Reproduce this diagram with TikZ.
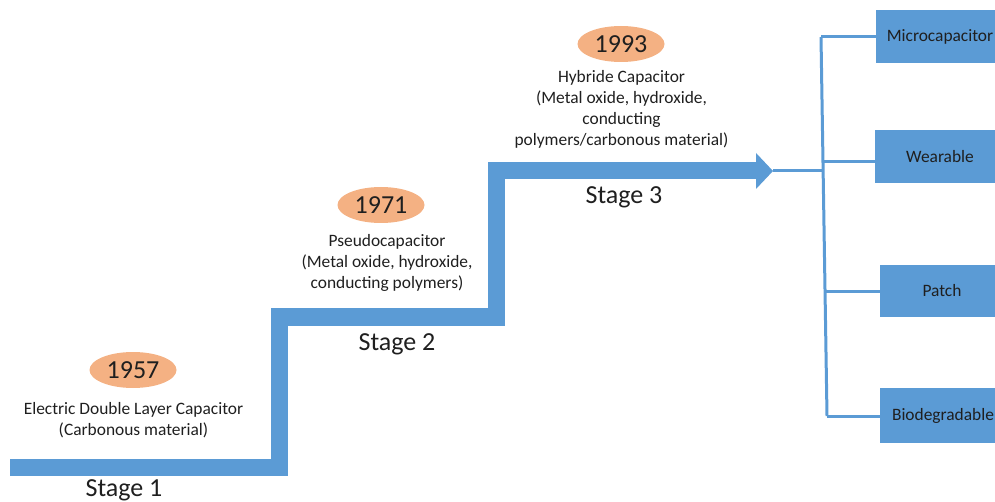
\documentclass[tikz,border=0pt]{standalone}
\usepackage{fontspec}
\setmainfont{Carlito}
\usetikzlibrary{shapes.geometric}
\definecolor{stairblue}{HTML}{5B9BD5}
\definecolor{yearorange}{HTML}{F4B183}
\definecolor{txtgray}{HTML}{1F1F1F}
\tikzset{
  stair/.style={draw=stairblue, line width=17pt, line join=miter, line cap=butt},
  thinlink/.style={draw=stairblue, line width=3pt},
  yearoval/.style={ellipse, fill=yearorange, draw=none, minimum width=87pt, minimum height=36pt, inner sep=0pt, text=txtgray, font=\fontsize{26}{30}\selectfont},
  desc/.style={align=center, text=txtgray, font=\fontsize{17.4}{21}\selectfont, inner sep=0pt},
  stagelbl/.style={text=txtgray, font=\fontsize{26}{30}\selectfont, inner sep=0pt},
  appbox/.style={rectangle, fill=stairblue, draw=none, inner sep=0pt, text=txtgray, font=\fontsize{17.4}{21}\selectfont}
}
\begin{document}
\begin{tikzpicture}[x=1pt,y=-1pt]
\useasboundingbox (0,0) rectangle (995,502);
% staircase
\coordinate (s0) at (10,467);
\coordinate (s1) at (279,467);
\coordinate (s2) at (279,317);
\coordinate (s3) at (496,317);
\coordinate (s4) at (496,171);
\coordinate (s5) at (757,171);
\coordinate (tip) at (773,171);
\draw[stair] (s0) -- (s1) -- (s2) -- (s3) -- (s4) -- (s5);
\fill[stairblue] (756,153) -- (tip) -- (756,189) -- cycle;

% years
\node[yearoval] (y1) at (133,370) {1957};
\node[yearoval] (y2) at (381,205) {1971};
\node[yearoval] (y3) at (621,44) {1993};

% descriptions
\node[desc] (d1) at (133.5,420) {Electric Double Layer Capacitor\\(Carbonous material)};
\node[desc] (d2) at (387,263) {Pseudocapacitor\\(Metal oxide, hydroxide,\\conducting polymers)};
\node[desc] (d3) at (621.5,109) {Hybride Capacitor\\(Metal oxide, hydroxide,\\conducting\\polymers/carbonous material)};

% stages
\node[stagelbl] (st1) at (124,490) {Stage 1};
\node[stagelbl] (st2) at (397,344) {Stage 2};
\node[stagelbl] (st3) at (624,197) {Stage 3};

% application boxes
\node[appbox, minimum width=128pt, minimum height=53pt] (mc) at (940,36.5) {Microcapacitor};
\node[appbox, minimum width=130pt, minimum height=53pt] (wb) at (940,156.5) {Wearable};
\node[appbox, minimum width=124pt, minimum height=52pt] (pt) at (942,291) {Patch};
\node[appbox, minimum width=126pt, minimum height=55pt] (bd) at (943,415.5) {Biodegradable};

% connectors
\coordinate (hub) at (824,171);
\coordinate (t1) at (821,37);
\coordinate (t2) at (823,162);
\coordinate (t3) at (825,292);
\coordinate (t4) at (827,416);
\draw[thinlink] (tip) -- (hub);
\draw[thinlink] (t1) -- (t4);
\draw[thinlink] (t1) -- (t1 -| mc.west);
\draw[thinlink] (t2) -- (t2 -| wb.west);
\draw[thinlink] (t3) -- (t3 -| pt.west);
\draw[thinlink] (t4) -- (t4 -| bd.west);
\end{tikzpicture}
\end{document}
